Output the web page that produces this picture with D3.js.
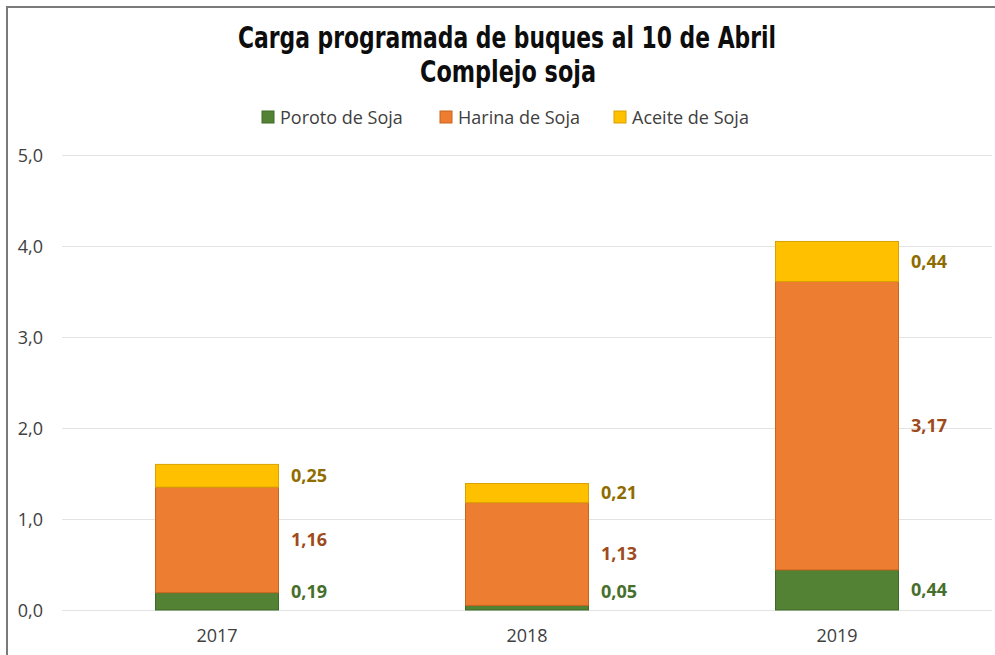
<!DOCTYPE html>
<html>
<head>
<meta charset="utf-8">
<script src="https://cdn.jsdelivr.net/npm/d3@7"></script>
<style>
  body { margin: 0; background: #fff; }
  svg { display: block; }
</style>
</head>
<body>
<svg id="chart"></svg>
<script>
// datos
const years = ['2017', '2018', '2019'];
const poroto = [0.19, 0.05, 0.44];
const harina = [1.16, 1.13, 3.17];
const aceite = [0.25, 0.21, 0.44];
const seriesNames = ['Poroto de Soja', 'Harina de Soja', 'Aceite de Soja'];
const yTicks = [0, 1, 2, 3, 4, 5];

const fills = ['#548235', '#ED7D31', '#FFC000'];
const strokes = ['#3f6a26', '#c8651f', '#d9a200'];
const labelColors = ['#476f2c', '#9e4a1c', '#8f6c00'];

let width = 995, height = 655;
let margin = { top: 155, right: 3, bottom: 45, left: 62 };

let svg = d3.select('#chart').attr('width', width).attr('height', height);

// marco
svg.append('path')
  .attr('d', `M7,${height} L7,7 L${width},7`)
  .attr('fill', 'none')
  .attr('stroke', '#7a7a7a')
  .attr('stroke-width', 2);

let y = d3.scaleLinear().domain([0, 5]).range([height - margin.bottom, margin.top]);
let x = d3.scaleBand().domain(years)
  .range([margin.left, width - margin.right])
  .paddingInner(0.6).paddingOuter(0.3);

// grid + y labels
let yAxis = d3.axisLeft(y).tickValues(yTicks)
  .tickSize(-(width - margin.right - margin.left))
  .tickFormat(d => d3.format('.1f')(d).replace('.', ','));
svg.append('g')
  .attr('transform', `translate(${margin.left},0)`)
  .call(yAxis)
  .call(g => g.select('.domain').remove())
  .call(g => g.selectAll('line').attr('stroke', '#e3e3e3').attr('stroke-width', 1.2))
  .call(g => g.selectAll('text')
    .attr('x', -19).attr('dy', '0.35em')
    .attr('fill', '#404040')
    .style('font-family', 'Open Sans, sans-serif')
    .style('font-size', '18px'));

// x labels
let xAxis = d3.axisBottom(x).tickSize(0);
svg.append('g')
  .attr('transform', `translate(0,${y(0)})`)
  .call(xAxis)
  .call(g => g.select('.domain').remove())
  .call(g => g.selectAll('text')
    .attr('y', 19).attr('dy', '0.71em')
    .attr('fill', '#404040')
    .style('font-family', 'Open Sans, sans-serif')
    .style('font-size', '18px'));

// apilado
let rows = years.map((yr, i) => ({ year: yr, s0: poroto[i], s1: harina[i], s2: aceite[i] }));
let stack = d3.stack().keys(['s0', 's1', 's2'])(rows);

stack.forEach((layer, k) => {
  svg.append('g').selectAll('rect')
    .data(layer)
    .join('rect')
    .attr('x', d => x(d.data.year) + 0.5)
    .attr('width', x.bandwidth() - 1)
    .attr('y', d => y(d[1]))
    .attr('height', d => y(d[0]) - y(d[1]))
    .attr('fill', fills[k])
    .attr('stroke', strokes[k])
    .attr('stroke-width', 1);

  svg.append('g').selectAll('text')
    .data(layer)
    .join('text')
    .attr('x', d => x(d.data.year) + x.bandwidth() + 12)
    .attr('y', d => Math.min(y((d[0] + d[1]) / 2), y(0) - 18))
    .attr('dy', '0.35em')
    .attr('fill', labelColors[k])
    .style('font-family', 'Open Sans, sans-serif')
    .style('font-weight', 'bold')
    .style('font-size', '18px')
    .text(d => d3.format('.2f')(d[1] - d[0]).replace('.', ','));
});

// titulo
let title = svg.append('g')
  .style('font-family', 'DejaVu Sans Condensed, Liberation Sans Narrow, sans-serif')
  .style('font-weight', 'bold')
  .attr('text-anchor', 'middle')
  .attr('fill', '#0d0d0d');
title.append('text').attr('x', 507).attr('y', 48)
  .style('font-size', '30px')
  .attr('textLength', 538).attr('lengthAdjust', 'spacingAndGlyphs')
  .text('Carga programada de buques al 10 de Abril');
title.append('text').attr('x', 508).attr('y', 82)
  .style('font-size', '30px')
  .attr('textLength', 176).attr('lengthAdjust', 'spacingAndGlyphs')
  .text('Complejo soja');

// leyenda
let legendX = [262, 440, 614];
let legend = svg.append('g');
seriesNames.forEach((name, i) => {
  legend.append('rect')
    .attr('x', legendX[i]).attr('y', 111)
    .attr('width', 12).attr('height', 12)
    .attr('fill', fills[i]).attr('stroke', strokes[i]);
  legend.append('text')
    .attr('x', legendX[i] + 18).attr('y', 124)
    .attr('fill', '#404040')
    .style('font-family', 'Open Sans, sans-serif')
    .style('font-size', '18px')
    .text(name);
});
</script>
</body>
</html>
